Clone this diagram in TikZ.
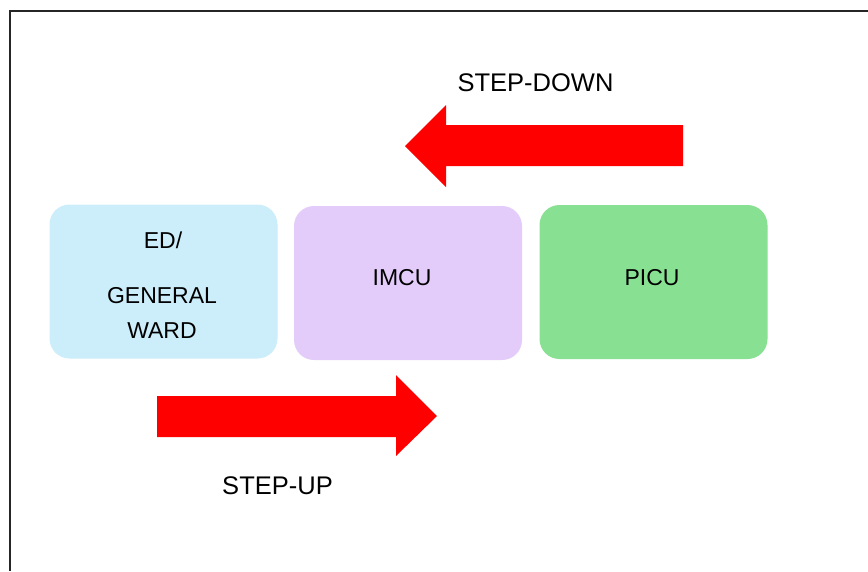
\documentclass[tikz,border=0pt]{standalone}
\usepackage{fontspec}
\setmainfont{Liberation Sans}
\definecolor{wardblue}{HTML}{CCEEFB}
\definecolor{imcupurple}{HTML}{E4CCFA}
\definecolor{picugreen}{HTML}{88E092}
\definecolor{arrowred}{HTML}{FF0000}
\begin{document}
\begin{tikzpicture}[x=1pt,y=-1pt,
  unit/.style={draw=none,rounded corners=20pt,minimum width=228pt,minimum height=154pt,inner sep=0pt},
  unittext/.style={align=center,font=\fontsize{23}{35}\selectfont,inner sep=0pt},
  label/.style={font=\fontsize{25.5}{30}\selectfont,inner sep=0pt},
  bigarrow/.style={fill=arrowred,draw=none}]
\useasboundingbox (0,0) rectangle (868,571);
\fill[white] (0,0) rectangle (868,571);
% outer frame
\draw[line width=2.6pt,black!85] (10,571) -- (10,11) -- (868,11);
% care units
\node[unit,fill=wardblue] (ward) at (163.5,281.5) {};
\node[unittext] (ed) at (163,240) {ED/};
\node[unittext] (gw) at (162,312.5) {GENERAL\\WARD};
\node[unit,fill=imcupurple] (imcu) at (408,283) {};
\node[unittext] (imcutext) at (402,278) {IMCU};
\node[unit,fill=picugreen] (picu) at (653.5,282) {};
\node[unittext] (picutext) at (652,278) {PICU};
% step-down arrow
\fill[bigarrow] (683,125) -- (446,125) -- (446,105) -- (405,146) -- (446,187) -- (446,166) -- (683,166) -- cycle;
\node[label] (down) at (535.5,83) {STEP-DOWN};
% step-up arrow
\fill[bigarrow] (157,396) -- (396,396) -- (396,375) -- (437,416) -- (396,456) -- (396,437) -- (157,437) -- cycle;
\node[label] (up) at (277.5,486) {STEP-UP};
\end{tikzpicture}
\end{document}
